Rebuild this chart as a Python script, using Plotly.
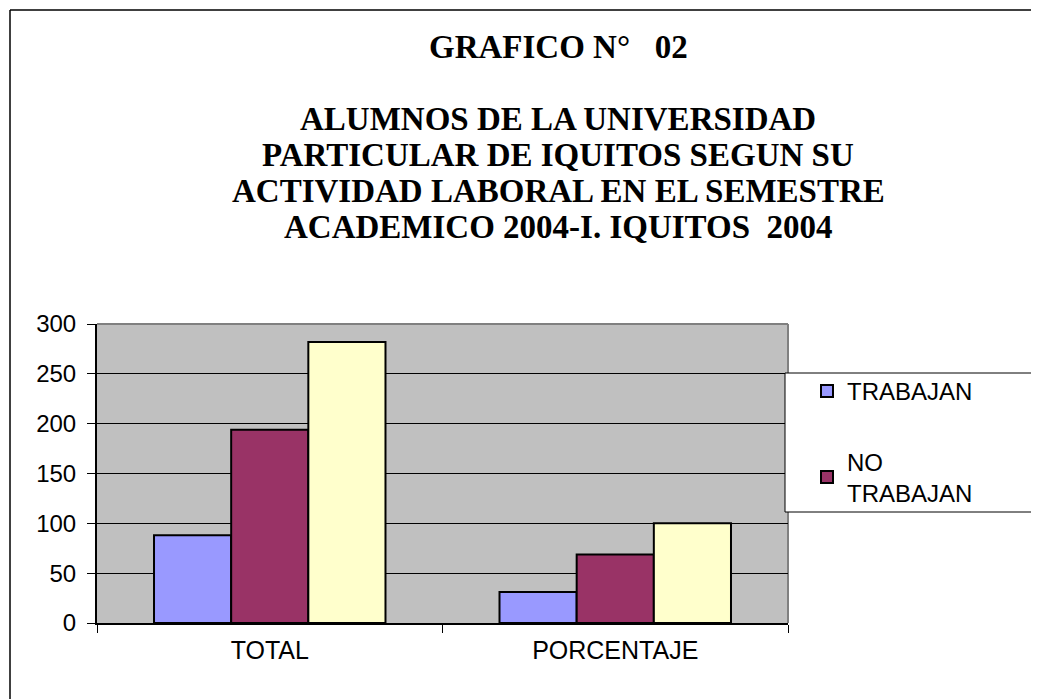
import plotly.graph_objects as go

categories = ["TOTAL", "PORCENTAJE"]
trabajan = [88, 31.2]
no_trabajan = [194, 68.8]
total = [282, 100]
y_ticks = [0, 50, 100, 150, 200, 250, 300]

title_main = "GRAFICO N°   02"
title_lines = [
    "ALUMNOS DE LA UNIVERSIDAD",
    "PARTICULAR DE IQUITOS SEGUN SU",
    "ACTIVIDAD LABORAL EN EL SEMESTRE",
    "ACADEMICO 2004-I. IQUITOS  2004",
]

# page has an 8px body margin; figure drawn in 1031x691
OFF = 8
W, H = 1039 - OFF, 699 - OFF
L, R, T, B = 97, 788, 324, 623  # plot area in reference (page) pixels


def px(xp):
    return (xp - L) / (R - L)


def py(yp):
    return (B - yp) / (B - T)


fig = go.Figure()
fig.add_trace(go.Bar(x=categories, y=trabajan, name="TRABAJAN",
                     marker=dict(color="#9999FF", line=dict(color="black", width=2)),
                     legendgroup="a"))
fig.add_trace(go.Bar(x=categories, y=no_trabajan, name="NO<br>TRABAJAN",
                     marker=dict(color="#993366", line=dict(color="black", width=2)),
                     legendgroup="b"))
fig.add_trace(go.Bar(x=categories, y=total, name="TOTAL",
                     marker=dict(color="#FFFFCC", line=dict(color="black", width=2)),
                     showlegend=False, legendgroup="c"))

shapes = [
    # outer frame (left and top)
    dict(type="line", xref="paper", yref="paper", x0=px(10), x1=px(10), y0=py(10), y1=py(720),
         line=dict(color="black", width=1.5)),
    dict(type="line", xref="paper", yref="paper", x0=px(10), x1=px(1060), y0=py(10), y1=py(10),
         line=dict(color="black", width=1.5)),
    # plot area border (top and right, gray)
    dict(type="line", xref="paper", yref="paper", x0=0, x1=1, y0=1, y1=1,
         line=dict(color="#808080", width=2), layer="below"),
    dict(type="line", xref="paper", yref="paper", x0=1, x1=1, y0=0, y1=1,
         line=dict(color="#808080", width=2), layer="below"),
    # legend box (runs off the right edge)
    dict(type="rect", xref="paper", yref="paper", x0=px(785), x1=px(1080), y0=py(373), y1=py(512),
         fillcolor="white", line=dict(color="black", width=1), layer="above"),
]

annotations = [dict(text="<b>" + title_main + "</b>", xref="paper", yref="paper",
                    x=px(558), y=py(47), showarrow=False, xanchor="center", yanchor="middle",
                    font=dict(family="Liberation Serif", size=33, color="black"))]
for i, line in enumerate(title_lines):
    annotations.append(dict(text="<b>" + line + "</b>", xref="paper", yref="paper",
                            x=px(558), y=py(119 + 36 * i), showarrow=False,
                            xanchor="center", yanchor="middle",
                            font=dict(family="Liberation Serif", size=33, color="black")))

fig.update_layout(
    width=W, height=H,
    margin=dict(l=L - OFF, r=W - (R - OFF), t=T - OFF, b=H - (B - OFF), autoexpand=False),
    paper_bgcolor="white",
    plot_bgcolor="#C0C0C0",
    barmode="group",
    bargap=0.33,
    bargroupgap=0,
    font=dict(family="Liberation Sans", size=22, color="black"),
    showlegend=True,
    legend=dict(x=px(807), y=py(369), xanchor="left", yanchor="top",
                bgcolor="rgba(0,0,0,0)", borderwidth=0,
                font=dict(family="Liberation Sans", size=24, color="black"),
                traceorder="grouped", tracegroupgap=36, itemsizing="constant"),
    shapes=shapes,
    annotations=annotations,
)
fig.update_xaxes(type="category", showline=True, linecolor="black", linewidth=2,
                 ticks="outside", tickson="boundaries", ticklen=8, tickcolor="black",
                 tickfont=dict(family="Liberation Sans", size=25, color="black"),
                 ticklabelstandoff=4,
                 showgrid=False, zeroline=False)
fig.update_yaxes(range=[0, 300], tickvals=y_ticks, showline=True, linecolor="black", linewidth=2,
                 ticks="outside", ticklen=8, tickcolor="black",
                 tickfont=dict(family="Liberation Sans", size=24, color="black"),
                 ticklabelstandoff=6,
                 showgrid=True, gridcolor="black", gridwidth=1, zeroline=False)

fig.write_html("out.html")
